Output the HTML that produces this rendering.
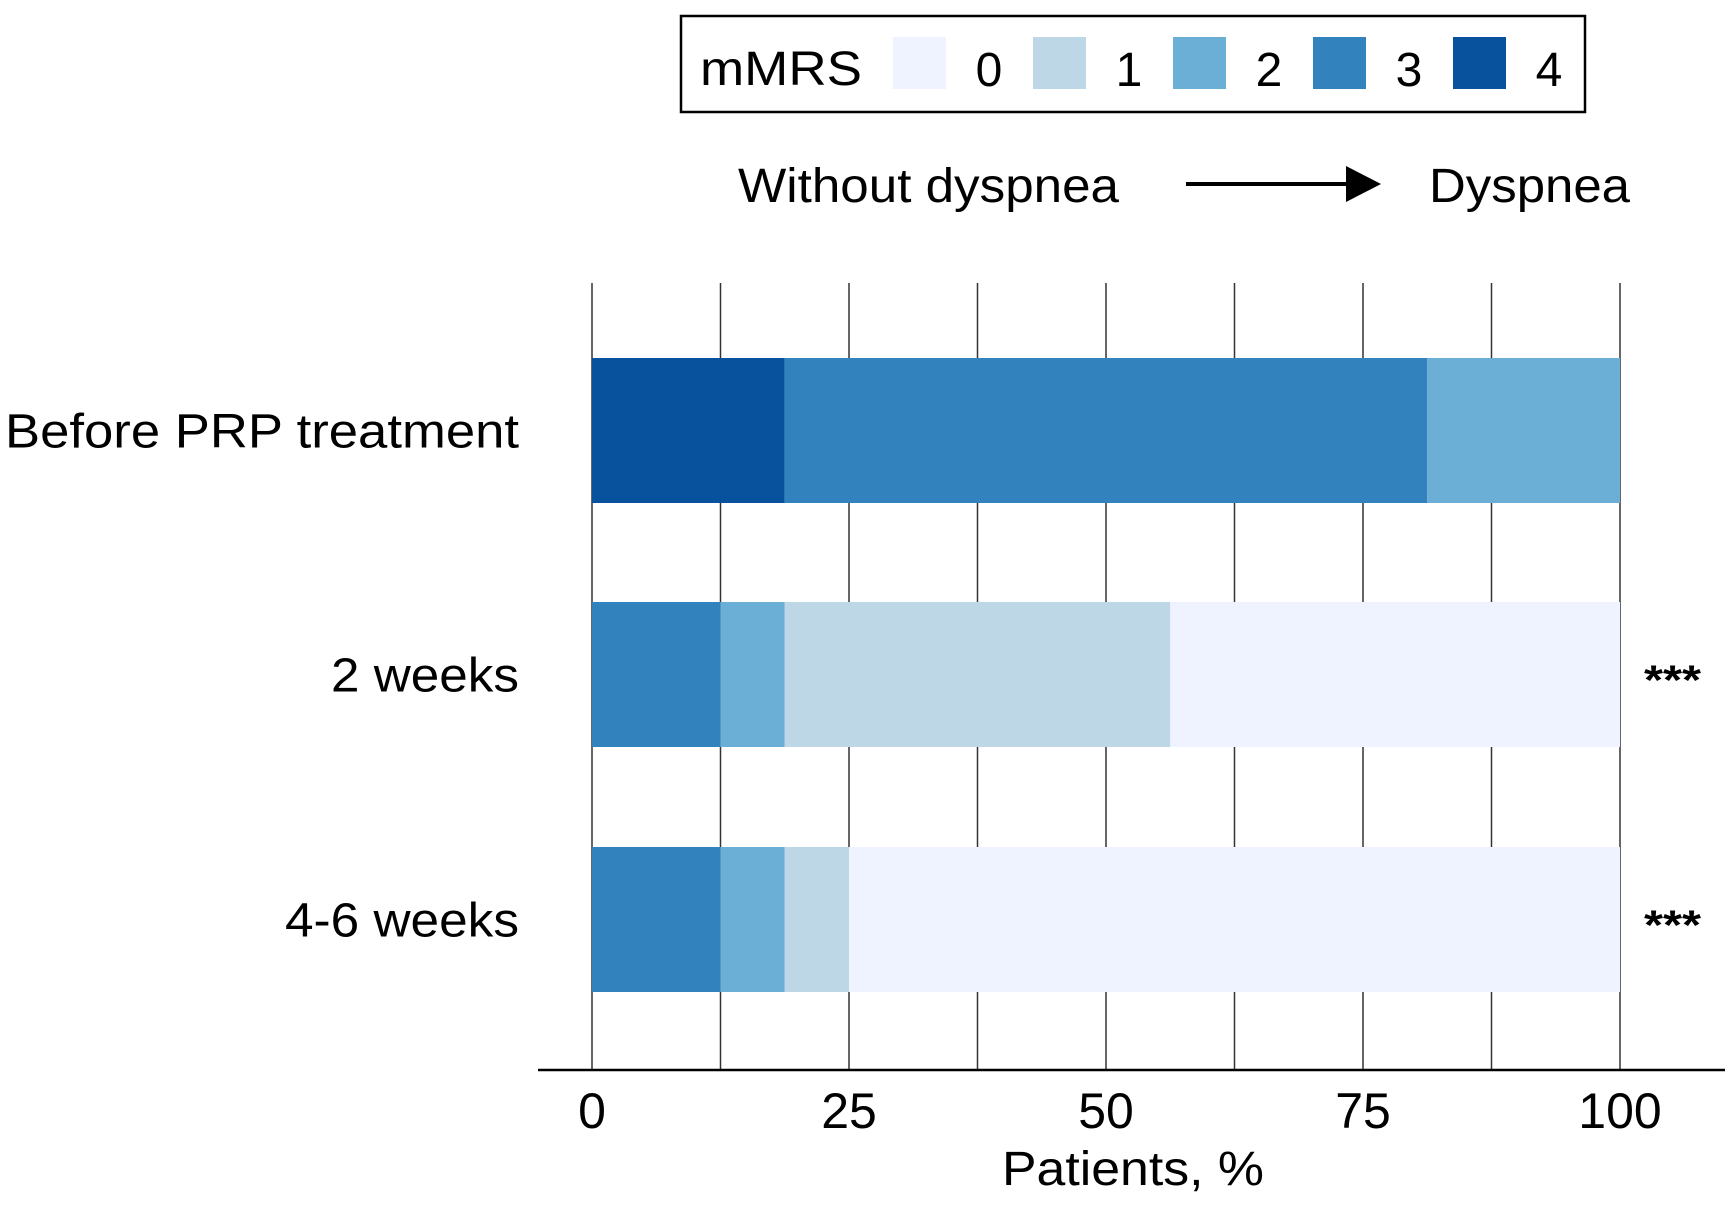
<!DOCTYPE html>
<html><head><meta charset="utf-8"><style>
html,body{margin:0;padding:0;background:#fff;}
svg{display:block;font-family:"Liberation Sans",Arial,sans-serif;}
</style></head><body>
<svg id="chart" width="1733" height="1205" viewBox="0 0 1733 1205">
<g>
<rect x="681" y="16" width="904" height="96" fill="#fff" stroke="#000" stroke-width="2.5"/>
<text x="700" y="85" font-size="48" textLength="162" lengthAdjust="spacingAndGlyphs">mMRS</text>
<g id="legendItems"></g>
</g>
<g>
<text x="738" y="202" font-size="48" textLength="381" lengthAdjust="spacingAndGlyphs">Without dyspnea</text>
<line x1="1186" y1="184" x2="1350" y2="184" stroke="#000" stroke-width="4"/>
<polygon points="1346,166 1381,184 1346,202" fill="#000"/>
<text x="1429" y="202" font-size="48" textLength="201" lengthAdjust="spacingAndGlyphs">Dyspnea</text>
</g>
<g id="grid"></g>
<g id="bars"></g>
<g id="labels"></g>
<line x1="538" y1="1070" x2="1725" y2="1070" stroke="#000" stroke-width="2.5"/>
<g id="ticks"></g>
<text x="1002" y="1185" font-size="48" textLength="262" lengthAdjust="spacingAndGlyphs">Patients, %</text>
</svg>
<script>
const categories = ["Before PRP treatment", "2 weeks", "4-6 weeks"];
const levels = ["4", "3", "2", "1", "0"];
const level4 = [18.75, 0, 0];
const level3 = [62.5, 12.5, 12.5];
const level2 = [18.75, 6.25, 6.25];
const level1 = [0, 37.5, 6.25];
const level0 = [0, 43.75, 75];
const significance = ["", "***", "***"];
const tickValues = [0, 25, 50, 75, 100];
const gridValues = [0, 12.5, 25, 37.5, 50, 62.5, 75, 87.5, 100];
const legendLabels = ["0", "1", "2", "3", "4"];

const colors = {"0":"#eff3ff","1":"#bdd7e7","2":"#6baed6","3":"#3182bd","4":"#08519c"};
const series = {"4":level4,"3":level3,"2":level2,"1":level1,"0":level0};
const labelWidths = {"Before PRP treatment":514,"2 weeks":188,"4-6 weeks":234};
const NS = "http://www.w3.org/2000/svg";
const x = v => 592 + (1620 - 592) * v / 100;
const barTop = [358, 602, 847], barH = 145;
const y = i => barTop[i];
function mk(tag, attrs, parent){const e=document.createElementNS(NS,tag);for(const k in attrs)e.setAttribute(k,attrs[k]);parent.appendChild(e);return e;}

const grid = document.getElementById('grid');
gridValues.forEach(v=>{
  const l = mk('line',{x1:x(v),x2:x(v),y1:283,y2:1070,stroke:'#333','stroke-width':1.5},grid);
  
  
});
const bars = document.getElementById('bars');
categories.forEach((c,i)=>{
  let acc = 0;
  levels.forEach(lv=>{
    const val = series[lv][i];
    if(val>0){
      const r = mk('rect',{x:x(acc),y:y(i),width:x(acc+val)-x(acc),height:barH,fill:colors[lv]},bars);
      
      
    }
    acc += val;
  });
});
const labels = document.getElementById('labels');
categories.forEach((c,i)=>{
  const w = labelWidths[c] || 200;
  const t = mk('text',{x:519-w,y:y(i)+barH/2+17,'font-size':48,textLength:w,lengthAdjust:'spacingAndGlyphs'},labels);
  t.textContent = c;
  
  
  if(significance[i]){
    const s = mk('text',{x:1644,y:y(i)+barH/2+20,'font-size':42,'font-weight':'bold',textLength:57,lengthAdjust:'spacingAndGlyphs'},labels);
    s.textContent = significance[i];
    
    
  }
});
const ticks = document.getElementById('ticks');
tickValues.forEach(v=>{
  const t = mk('text',{x:x(v),y:1128,'font-size':50,'text-anchor':'middle'},ticks);
  t.textContent = v;
  
  
});
const li = document.getElementById('legendItems');
const swX = [893,1033,1173,1313,1453];
legendLabels.forEach((lb,i)=>{
  const r = mk('rect',{x:swX[i],y:37,width:53,height:52,fill:colors[lb]},li);
  
  
  const t = mk('text',{x:swX[i]+96,y:86,'font-size':48,'text-anchor':'middle'},li);
  t.textContent = lb;
  
  
});
</script>
</body></html>
